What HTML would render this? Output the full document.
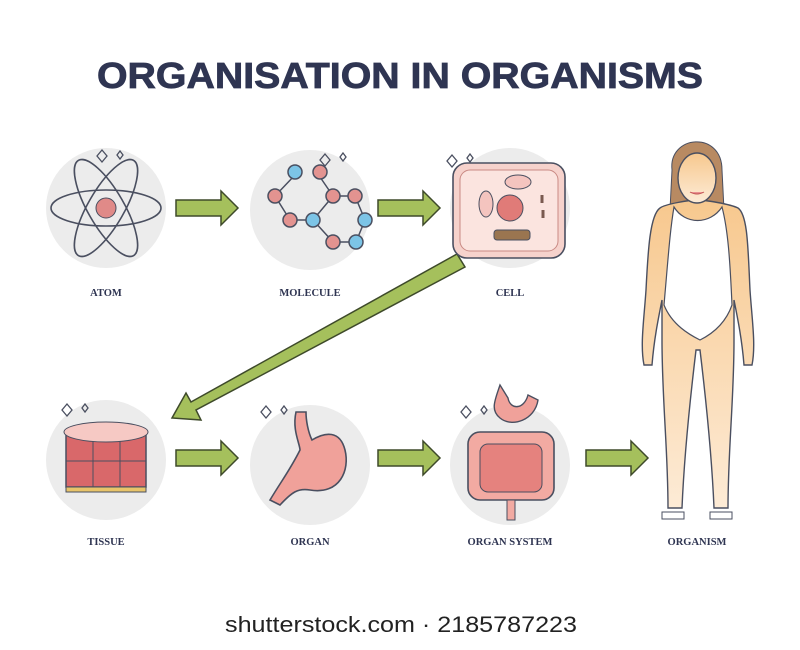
<!DOCTYPE html>
<html><head><meta charset="utf-8"><style>
body{margin:0;background:#fff;width:800px;height:645px;overflow:hidden}
</style></head><body>
<svg width="800" height="645" viewBox="0 0 800 645" xmlns="http://www.w3.org/2000/svg" font-family="Liberation Serif, serif">
<text x="97" y="88" textLength="606" lengthAdjust="spacingAndGlyphs" font-family="Liberation Sans, sans-serif" font-weight="bold" font-size="36" fill="#2f3552" stroke="#2f3552" stroke-width="0.8">ORGANISATION IN ORGANISMS</text>
<g fill="#ececec">
<circle cx="106" cy="208" r="60"/><circle cx="310" cy="210" r="60"/><circle cx="510" cy="208" r="60"/>
<circle cx="106" cy="460" r="60"/><circle cx="310" cy="465" r="60"/><circle cx="510" cy="465" r="60"/>
</g>
<g fill="#a5c05c" stroke="#3e4a2a" stroke-width="1.5">
<path d="M176,200 h45 v-9 l17,17 l-17,17 v-9 h-45z"/>
<path d="M378,200 h45 v-9 l17,17 l-17,17 v-9 h-45z"/>
<path d="M176,450 h45 v-9 l17,17 l-17,17 v-9 h-45z"/>
<path d="M378,450 h45 v-9 l17,17 l-17,17 v-9 h-45z"/>
<path d="M586,450 h45 v-9 l17,17 l-17,17 v-9 h-45z"/>
<path d="M457,254 L465,267 L196,410 L201,420 L172,418 L186,393 L191,402 Z"/>
</g>
<g fill="none" stroke="#4a4f60" stroke-width="1.6">
<ellipse cx="106" cy="208" rx="55" ry="18"/>
<ellipse cx="106" cy="208" rx="55" ry="18" transform="rotate(60 106 208)"/>
<ellipse cx="106" cy="208" rx="55" ry="18" transform="rotate(-60 106 208)"/>
</g>
<circle cx="106" cy="208" r="10" fill="#e08a88" stroke="#4a4f60"/>
<g stroke="#4a4f60" stroke-width="1.5">
<path d="M275,196 L295,175 M275,196 L290,220 L313,220 L333,196 L355,196 L365,220 L356,242 L333,242 L313,220 M333,196 L320,177" fill="none"/>
<g fill="#e39390"><circle cx="275" cy="196" r="7"/><circle cx="290" cy="220" r="7"/><circle cx="320" cy="172" r="7"/><circle cx="333" cy="196" r="7"/><circle cx="355" cy="196" r="7"/><circle cx="333" cy="242" r="7"/></g>
<g fill="#7cc4e6"><circle cx="295" cy="172" r="7"/><circle cx="313" cy="220" r="7"/><circle cx="365" cy="220" r="7"/><circle cx="356" cy="242" r="7"/></g>
</g>
<rect x="453" y="163" width="112" height="95" rx="14" fill="#f6d2cc" stroke="#4a4f60" stroke-width="1.6"/>
<rect x="460" y="170" width="98" height="81" rx="10" fill="#fbe4df" stroke="#c98a84"/>
<circle cx="510" cy="208" r="13" fill="#e07b78" stroke="#4a4f60"/>
<ellipse cx="486" cy="204" rx="7" ry="13" fill="#f4c4bf" stroke="#4a4f60"/>
<ellipse cx="518" cy="182" rx="13" ry="7" fill="#f4c4bf" stroke="#4a4f60"/>
<rect x="494" y="230" width="36" height="10" rx="3" fill="#9a7550" stroke="#4a4f60"/>
<path d="M542,195 v8 M543,210 v8" stroke="#7a5a50" stroke-width="3"/>
<rect x="66" y="435" width="80" height="52" fill="#d9686a" stroke="#4a4f60" stroke-width="1.5"/>
<path d="M93,435v52M120,435v52M66,461h80" stroke="#4a4f60"/>
<ellipse cx="106" cy="432" rx="42" ry="10" fill="#f6c9c4" stroke="#4a4f60"/>
<rect x="66" y="487" width="80" height="5" fill="#e8c46a" stroke="#4a4f60"/>
<path d="M296,412 C292,430 300,444 300,450 C290,470 282,480 270,500 L280,505 C292,492 298,488 310,490 C340,495 350,470 345,450 C340,430 325,432 312,440 C308,432 306,420 306,412 Z" fill="#f0a19a" stroke="#4a4f60" stroke-width="1.6"/>
<path d="M500,385 C495,400 490,410 500,418 C512,428 535,420 538,400 L528,395 C524,410 510,410 508,398 Z" fill="#f0a19a" stroke="#4a4f60" stroke-width="1.4"/>
<rect x="468" y="432" width="86" height="68" rx="12" fill="#f2aaa2" stroke="#4a4f60" stroke-width="1.6"/>
<rect x="480" y="444" width="62" height="48" rx="8" fill="#e5827e" stroke="#4a4f60"/>
<rect x="507" y="500" width="8" height="20" fill="#f2aaa2" stroke="#4a4f60"/>
<g fill="none" stroke="#4a4f60" stroke-width="1.3">
<path d="M102,150 l5,6 l-5,6 l-5,-6z M120,151 l3,4 l-3,4 l-3,-4z"/>
<path d="M325,154 l5,6 l-5,6 l-5,-6z M343,153 l3,4 l-3,4 l-3,-4z"/>
<path d="M452,155 l5,6 l-5,6 l-5,-6z M470,154 l3,4 l-3,4 l-3,-4z"/>
<path d="M67,404 l5,6 l-5,6 l-5,-6z M85,404 l3,4 l-3,4 l-3,-4z"/>
<path d="M266,406 l5,6 l-5,6 l-5,-6z M284,406 l3,4 l-3,4 l-3,-4z"/>
<path d="M466,406 l5,6 l-5,6 l-5,-6z M484,406 l3,4 l-3,4 l-3,-4z"/>
</g>
<defs><linearGradient id="sk" x1="0" y1="0" x2="0" y2="1"><stop offset="0" stop-color="#f7c88e"/><stop offset="1" stop-color="#fdebd6"/></linearGradient></defs>
<path d="M672,170 C668,135 722,130 722,170 L724,210 L670,210Z" fill="#b88a62" stroke="#4a4f60"/>
<g fill="url(#sk)" stroke="#4a4f60" stroke-width="1.4">
<path d="M660,208 C665,204 690,200 697,200 C705,200 730,204 738,208 C748,215 748,250 750,290 C752,320 756,345 752,365 L744,365 C742,340 738,320 734,300 L734,340 C734,400 728,450 728,508 L714,508 C712,460 706,400 700,350 L696,350 C690,400 684,460 682,508 L668,508 C668,450 662,400 662,340 L662,300 C658,320 654,340 652,365 L644,365 C640,345 644,320 646,290 C648,250 650,215 660,208Z"/>
<ellipse cx="697" cy="178" rx="19" ry="25"/>
</g>
<path d="M674,207 C685,225 710,225 722,207 C728,230 730,260 732,305 C725,325 710,335 700,340 C690,335 672,325 664,305 C668,260 670,230 674,207Z" fill="#fff" stroke="#4a4f60" stroke-width="1.2"/>
<g fill="#fff" stroke="#4a4f60"><path d="M662,512 h22 v7 h-22z"/><path d="M710,512 h22 v7 h-22z"/></g>
<path d="M690,192 q7,4 14,0" stroke="#c05050" fill="#e89090"/>
<g font-weight="bold" font-size="10.5" fill="#2f3552" text-anchor="middle">
<text x="106" y="296">ATOM</text><text x="310" y="296">MOLECULE</text><text x="510" y="296">CELL</text>
<text x="106" y="545">TISSUE</text><text x="310" y="545">ORGAN</text><text x="510" y="545">ORGAN SYSTEM</text><text x="697" y="545">ORGANISM</text>
</g>
<text x="225" y="632" textLength="352" lengthAdjust="spacingAndGlyphs" font-family="Liberation Sans, sans-serif" font-size="22" fill="#222">shutterstock.com · 2185787223</text>
</svg>
</body></html>
